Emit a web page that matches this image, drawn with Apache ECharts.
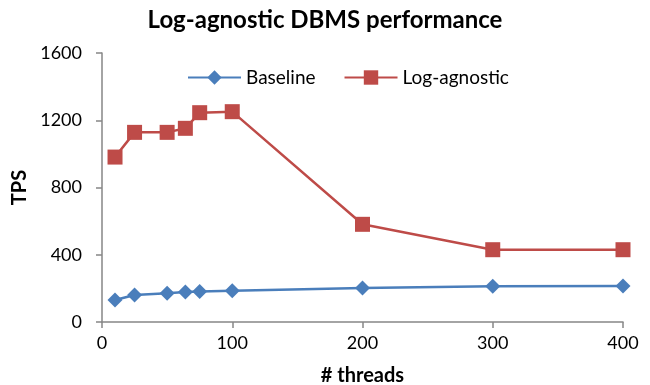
<!DOCTYPE html>
<html><head><meta charset="utf-8">
<script src="https://cdn.jsdelivr.net/npm/echarts@6/dist/echarts.min.js"></script>
<style>html,body{margin:0;padding:0;background:#fff}#c{width:650px;height:385px}</style>
</head><body><div id="c"></div>
<script>
var threads = [10, 25, 50, 64, 75, 100, 200, 300, 400];
var baseline = [131, 161, 171, 178, 182, 186, 202, 212, 214];
var logAgnostic = [981, 1128, 1128, 1152, 1245, 1251, 581, 430, 430];
var yTicks = [0, 400, 800, 1200, 1600];
var xTicks = [0, 100, 200, 300, 400];

function pairs(xs, ys){ return xs.map(function(x,i){return [x, ys[i]];}); }
var FONT = 'Lato';
var axisColor = '#868686';
var chart = echarts.init(document.getElementById('c'));
chart.setOption({
  animation: false,
  backgroundColor: '#fff',
  title: {text: 'Log-agnostic DBMS performance', left: 'center', top: 3,
    textStyle: {fontFamily: FONT, fontSize: 24, fontWeight: 'bold', color: '#000'}},
  legend: {top: 63, left: 182, itemWidth: 53, itemHeight: 18, itemGap: 28,
    textStyle: {fontFamily: FONT, fontSize: 19, color: '#000'},
    data: ['Baseline', 'Log-agnostic']},
  grid: {left: 102, right: 27, top: 53, bottom: 63, outerBoundsMode: 'none', containLabel: false},
  xAxis: {type: 'value', min: xTicks[0], max: xTicks[xTicks.length-1], interval: 100,
    name: '# threads', nameLocation: 'middle', nameGap: 44,
    nameTextStyle: {fontFamily: FONT, fontSize: 20, fontWeight: 'bold', color: '#000'},
    axisLine: {show: true, lineStyle: {color: axisColor, width: 1.5}},
    axisTick: {show: true, length: 6, lineStyle: {color: axisColor, width: 1.5}},
    axisLabel: {fontFamily: FONT, fontSize: 18, color: '#000', margin: 12},
    splitLine: {show: false}},
  yAxis: {type: 'value', min: yTicks[0], max: yTicks[yTicks.length-1], interval: 400,
    name: 'TPS', nameLocation: 'middle', nameGap: 72, nameRotate: 90,
    nameTextStyle: {fontFamily: FONT, fontSize: 20, fontWeight: 'bold', color: '#000'},
    axisLine: {show: true, lineStyle: {color: axisColor, width: 1.5}},
    axisTick: {show: true, length: 6, lineStyle: {color: axisColor, width: 1.5}},
    axisLabel: {fontFamily: FONT, fontSize: 18, color: '#000', margin: 20,
      formatter: function(v){ return String(v); }},
    splitLine: {show: false}},
  series: [
    {name: 'Baseline', type: 'line', data: pairs(threads, baseline),
     symbol: 'diamond', symbolSize: 15,
     lineStyle: {color: '#4A7EBB', width: 2.5},
     itemStyle: {color: '#4A7EBB'}},
    {name: 'Log-agnostic', type: 'line', data: pairs(threads, logAgnostic),
     symbol: 'rect', symbolSize: 15,
     lineStyle: {color: '#BE4B48', width: 2.5},
     itemStyle: {color: '#BE4B48'}}
  ]
});
</script></body></html>
